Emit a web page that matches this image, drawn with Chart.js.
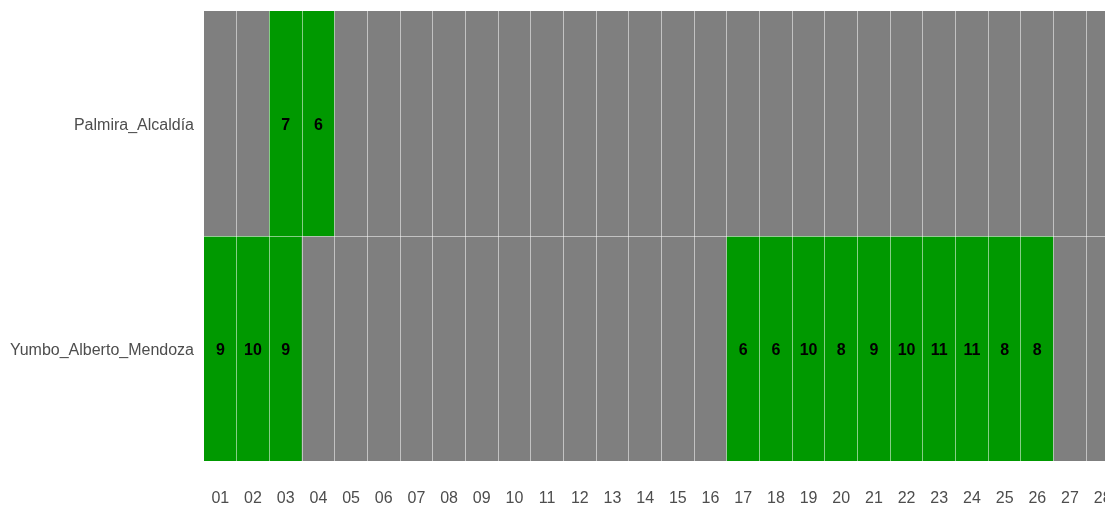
<!DOCTYPE html>
<html>
<head>
<meta charset="utf-8">
<script src="https://cdn.jsdelivr.net/npm/chart.js@4"></script>
<style>
  html, body { margin: 0; padding: 0; background: #fff; overflow: hidden; }
  canvas { display: block; }
</style>
</head>
<body>
<canvas id="heatChart" width="1120" height="505"></canvas>
<script>
// days shown on the x axis
const days = ['01','02','03','04','05','06','07','08','09','10','11','12','13','14',
              '15','16','17','18','19','20','21','22','23','24','25','26','27','28'];
// stations, top to bottom
const stations = ['Palmira_Alcaldía', 'Yumbo_Alberto_Mendoza'];
// counts per day (null = no data, grey cell)
const palmira = [null, null, 7, 6, null, null, null, null, null, null, null, null, null, null,
                 null, null, null, null, null, null, null, null, null, null, null, null, null, null];
const yumbo = [9, 10, 9, null, null, null, null, null, null, null, null, null, null, null,
               null, null, 6, 6, 10, 8, 9, 10, 11, 11, 8, 8, null, null];

const GREEN = '#009900';
const GREY = '#7f7f7f';
const LINE = 'rgba(255,255,255,0.52)';
const FONT = '"Liberation Sans", Arial, sans-serif';

function rowDataset(label, values, lo) {
    return {
        label,
        values,
        data: values.map(() => [lo, lo + 1]),
        backgroundColor: values.map(v => v != null ? GREEN : GREY),
        borderWidth: 0,
        grouped: false,
        barPercentage: 1,
        categoryPercentage: 1
    };
}

// write the count in the middle of each green cell
const cellLabels = {
    id: 'cellLabels',
    afterDraw(chart) {
        const ctx = chart.ctx;
        ctx.save();
        ctx.font = 'bold 16px ' + FONT;
        ctx.fillStyle = '#000';
        ctx.textAlign = 'center';
        ctx.textBaseline = 'middle';
        chart.data.datasets.forEach((ds, i) => {
            const meta = chart.getDatasetMeta(i);
            meta.data.forEach((bar, j) => {
                const v = ds.values[j];
                if (v == null) return;
                ctx.fillText(String(v), bar.x, (bar.y + bar.base) / 2 + 2);
            });
        });
        ctx.restore();
    }
};

function noPad(scale) {
    scale.paddingTop = 0;
    scale.paddingBottom = 0;
    scale.paddingLeft = 0;
    scale.paddingRight = 0;
}

const ctx = document.getElementById('heatChart');
new Chart(ctx, {
    type: 'bar',
    data: {
        labels: days,
        datasets: [
            rowDataset(stations[0], palmira, 1),
            rowDataset(stations[1], yumbo, 0)
        ]
    },
    options: {
        responsive: false,
        animation: false,
        layout: { padding: { top: 11, right: 1, bottom: 0, left: 0 } },
        plugins: {
            legend: { display: false },
            tooltip: { enabled: false }
        },
        scales: {
            x: {
                offset: true,
                border: { display: false },
                grid: {
                    z: 1,
                    offset: true,
                    drawTicks: false,
                    lineWidth: 1,
                    color: c => c.index === 0 ? 'rgba(0,0,0,0)' : LINE
                },
                afterFit: scale => { noPad(scale); scale.height = 44; },
                ticks: {
                    padding: 28,
                    color: '#4d4d4d',
                    font: { family: FONT, size: 16 },
                    maxRotation: 0,
                    autoSkip: false
                }
            },
            y: {
                type: 'linear',
                min: 0,
                max: 2,
                border: { display: false },
                grid: { display: false, drawTicks: false },
                afterBuildTicks: scale => { scale.ticks = [{ value: 0.49 }, { value: 1.49 }]; },
                afterFit: scale => { noPad(scale); scale.width = 204; },
                ticks: {
                    padding: 10,
                    color: '#4d4d4d',
                    font: { family: FONT, size: 16 },
                    callback: v => v > 1 ? stations[0] : stations[1]
                }
            },
            ySep: {
                type: 'linear',
                position: 'left',
                min: 0,
                max: 2,
                border: { display: false },
                grid: { z: 1, color: LINE, lineWidth: 1, drawTicks: false },
                afterBuildTicks: scale => { scale.ticks = [{ value: 1 }]; },
                afterFit: scale => { noPad(scale); scale.width = 0; },
                ticks: { display: false }
            }
        }
    },
    plugins: [cellLabels]
});
</script>
</body>
</html>
